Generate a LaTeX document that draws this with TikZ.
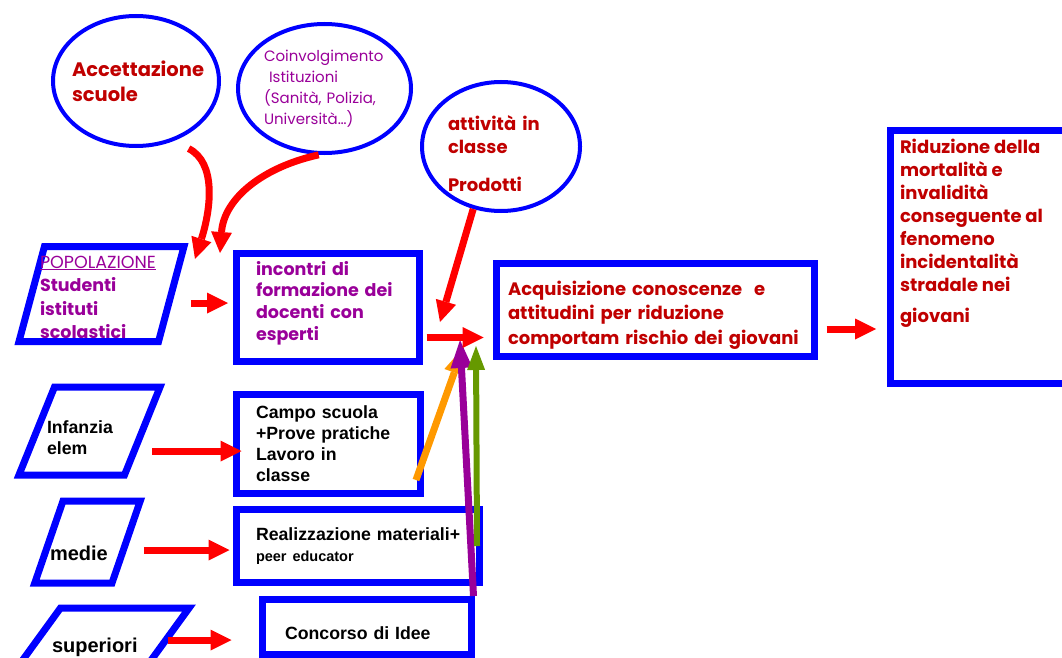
\documentclass[tikz,border=0pt]{standalone}
\usepackage{fontspec}
\setmainfont{Liberation Sans}
\newfontfamily\comic{Poppins}
\usepackage{tikz}
\usetikzlibrary{shapes,arrows.meta,calc}
\usetikzlibrary{positioning}
\definecolor{clrBlue}{RGB}{0,0,255}
\definecolor{clrRed}{RGB}{255,0,0}
\definecolor{clrDarkRed}{RGB}{192,0,0}
\definecolor{clrPurple}{RGB}{153,0,153}
\definecolor{clrOrange}{RGB}{255,153,0}
\definecolor{clrGreen}{RGB}{102,153,0}
\tikzstyle{box_style}=[draw=clrBlue, line width=7pt, rectangle, inner sep=0pt, align=left]
\tikzstyle{oval_style}=[draw=clrBlue, line width=4pt, ellipse, inner sep=0pt, align=left]
\tikzstyle{para_style}=[draw=clrBlue, line width=7pt, trapezium, trapezium stretches body, inner sep=0pt, align=left]
\tikzstyle{red_text}=[text=clrDarkRed, font=\comic\bfseries\fontsize{18}{23}\selectfont]
\tikzstyle{red_big}=[text=clrDarkRed, font=\comic\bfseries\fontsize{19.5}{25}\selectfont]
\tikzstyle{purple_text}=[text=clrPurple, font=\comic\bfseries\fontsize{17.5}{21.7}\selectfont]
\tikzstyle{black_text}=[text=black, font=\bfseries\fontsize{17.7}{21}\selectfont]
\tikzstyle{black_big}=[text=black, font=\bfseries\fontsize{20}{24}\selectfont]
\tikzstyle{myarrow}=[-{Triangle[length=21pt,width=21pt,line width=0pt]}, line width=7pt, draw=clrRed]
\tikzstyle{colarrow}=[-{Triangle[length=26pt,width=21pt,line width=0pt]}, line width=7pt]

\begin{document}
\begin{tikzpicture}[x=1pt, y=-1pt]
	\useasboundingbox (0,0) rectangle (1062,658);

	% ovals on top
	\node[oval_style, minimum width=166pt, minimum height=130pt, inner xsep=-6pt, text width=128pt, red_big] (K) at (136,81) {Accettazione\\scuole};
	\node[oval_style, minimum width=173pt, minimum height=129pt, inner xsep=-2pt, text width=121pt, text=clrPurple, font=\comic\fontsize{15}{21}\selectfont] (L) at (324.5,88.5) {Coinvolgimento\\~Istituzioni\\(Sanità, Polizia,\\Università…)};
	\node[oval_style, minimum width=158pt, minimum height=129pt, text width=106pt, text height=29.5pt, text depth=60.5pt, red_text] (M) at (501,146.5) {attività in\\classe\\[15pt]Prodotti};

	% parallelograms (target groups)
	\node[para_style, minimum width=165pt, minimum height=95pt, inner xsep=-4.5pt, trapezium left angle=75, trapezium right angle=105, text width=123pt, text height=21.5pt, text depth=73.5pt, text=clrPurple, font=\comic\bfseries\fontsize{17.5}{23.5}\selectfont] (A) at (101.5,294) {{\mdseries\underline{POPOLAZIONE}}\\Studenti\\istituti\\scolastici};
	\node[para_style, minimum width=141pt, minimum height=88pt, inner xsep=-7.5pt, trapezium left angle=68, trapezium right angle=112, text width=85pt, text height=46pt, text depth=42pt, black_text] (H) at (89.5,431) {Infanzia\\elem};
	\node[para_style, minimum width=105pt, minimum height=82pt, inner xsep=-13pt, trapezium left angle=71, trapezium right angle=109, text width=75pt, text height=59pt, text depth=23pt, black_big] (I) at (87.5,542) {medie};
	\node[para_style, minimum width=188pt, minimum height=82pt, inner xsep=-8.5pt, trapezium left angle=54, trapezium right angle=126, text width=86pt, text height=44pt, text depth=38pt, black_big] (J) at (95,649) {superiori};

	% boxes
	\node[box_style, minimum width=183pt, minimum height=108pt, text width=144pt, text height=21.5pt, text depth=86.5pt, purple_text] (B) at (328,307.5) {incontri di\\formazione dei\\docenti con\\esperti};
	\node[box_style, minimum width=318pt, minimum height=93pt, text width=295pt, text height=31.5pt, text depth=61.5pt, text=clrDarkRed, font=\comic\bfseries\fontsize{18}{24.5}\selectfont] (C) at (655.5,310) {Acquisizione conoscenze~~e\\attitudini per riduzione\\\mbox{comportam rischio dei giovani}};
	\node[box_style, minimum width=180pt, minimum height=253pt, red_text] (D) at (980,257) {\parbox[c][236pt][t]{160pt}{\raggedright Riduzione della\\mortalità e\\invalidità\\conseguente al\\fenomeno\\incidentalità\\stradale nei\\[8pt]giovani}};
	\node[box_style, minimum width=184pt, minimum height=99pt, text width=145pt, black_text] (E) at (328.5,444) {Campo scuola\\+Prove pratiche\\Lavoro in\\classe};
	\node[box_style, minimum width=243pt, minimum height=73pt, text width=204pt, black_text] (F) at (358,546) {\mbox{Realizzazione materiali+}\\{\fontsize{14.5}{17}\selectfont peer educator}};
	\node[box_style, minimum width=209pt, minimum height=55pt, text width=164pt, text height=25pt, text depth=0pt, black_text] (G) at (367,627) {Concorso di Idee};

	% free ends
	\coordinate (k1) at (195,259);
	\coordinate (l1) at (220,253);
	\coordinate (m1) at (440,322);

	% coloured arrows into C
	\draw[colarrow, draw=clrOrange] ([xshift=-8pt,yshift=17pt]E.south east) -- ([xshift=-30pt,yshift=12pt]C.south west);
	\draw[colarrow, draw=clrPurple, -{Triangle[length=28pt,width=22pt,line width=0pt]}] ([xshift=-1.5pt]G.north east) -- ([xshift=-33pt,yshift=20pt]C.south west);
	\draw[colarrow, draw=clrGreen, line width=6pt, -{Triangle[length=24pt,width=18pt,line width=0pt]}] ([xshift=-6pt]F.east) -- ([xshift=-17pt,yshift=14pt]C.south west);

	% red arrows
	\draw[myarrow] ([yshift=-15pt]K.-45) .. controls +(28,14) and +(16,-50) .. (k1);
	\draw[myarrow] (L.-95) .. controls +(-55,12) and +(4,-55) .. (l1);
	\draw[myarrow] (M.-114) -- (m1);
	\draw[myarrow, shorten <=16pt, shorten >=5pt] ([yshift=-9pt]A.east) -- ([yshift=-9pt]A.east -| B.west);
	\draw[myarrow, shorten <=3.5pt, shorten >=9.5pt] ([yshift=-30pt]B.east) -- ([yshift=-30pt]B.east -| C.west);
	\draw[myarrow, shorten <=8.5pt, shorten >=10.5pt] ([yshift=-19pt]C.east) -- ([yshift=-19pt]C.east -| D.west);
	\draw[myarrow, shorten <=6pt, shorten >=-8.5pt] ([yshift=-20pt]H.east) -- ([yshift=-20pt]H.east -| E.west);
	\draw[myarrow, shorten <=14pt, shorten >=3.5pt] ([yshift=-8pt]I.east) -- ([yshift=-8pt]I.east -| F.west);
	\draw[myarrow, shorten <=4pt, shorten >=27.5pt] ([yshift=9pt]J.east) -- ([yshift=9pt]J.east -| G.west);

\end{tikzpicture}
\end{document}
